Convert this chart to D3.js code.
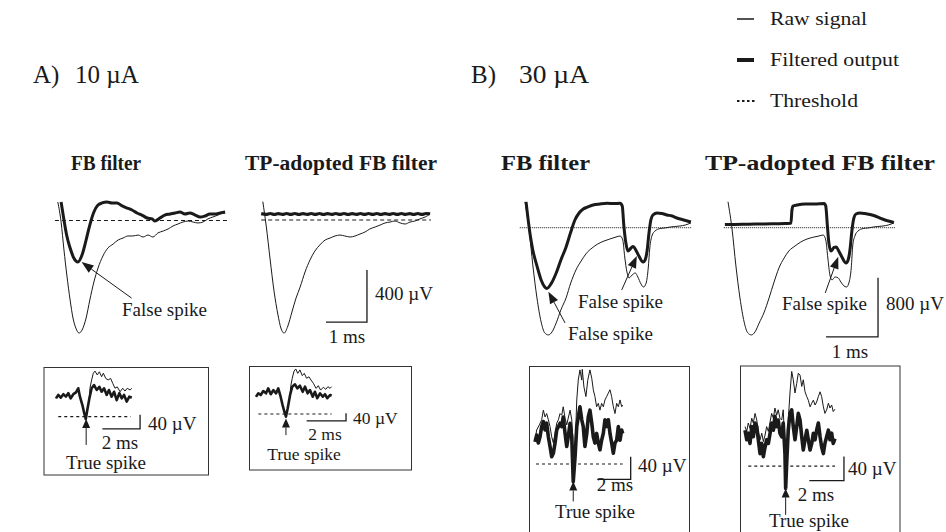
<!DOCTYPE html>
<html><head><meta charset="utf-8">
<script src="https://cdn.jsdelivr.net/npm/d3@7"></script>
<style>
body{margin:0;background:#fff}
svg{display:block}
text{font-family:"Liberation Serif","Times New Roman",serif;fill:#1a1a1a}
</style>
</head><body>
<svg id="c" width="946" height="532"></svg>
<script>
// ===== DATA (time in ms, voltage in µV) =====
// Panel A) 10 µA — FB filter
const rawA1 = [[0.02,92],[0.1,-62],[0.17,-277],[0.24,-470],[0.32,-662],[0.39,-800],[0.46,-878],[0.54,-916],[0.61,-893],[0.71,-800],[0.80,-662],[0.90,-523],[1.00,-416],[1.12,-323],[1.24,-262],[1.37,-231],[1.49,-200],[1.61,-185],[1.73,-169],[1.85,-169],[1.98,-162],[2.10,-177],[2.22,-162],[2.34,-177],[2.46,-146],[2.59,-131],[2.71,-115],[2.83,-92],[2.95,-77],[3.07,-62],[3.20,-54],[3.32,-62],[3.44,-69],[3.56,-62],[3.68,-38],[3.80,-23],[3.93,-8],[4.05,8],[4.10,8]];
const filtA1 = [[0.10,92],[0.17,-46],[0.24,-169],[0.32,-262],[0.41,-339],[0.51,-370],[0.61,-316],[0.71,-200],[0.80,-85],[0.90,15],[1.00,69],[1.10,85],[1.22,92],[1.34,85],[1.46,85],[1.59,62],[1.71,46],[1.83,31],[1.95,8],[2.07,-8],[2.20,-31],[2.32,-38],[2.39,-54],[2.51,-31],[2.63,-8],[2.76,0],[2.88,8],[3.00,15],[3.12,0],[3.24,8],[3.37,-8],[3.49,-23],[3.61,-15],[3.73,0],[3.85,0],[3.98,8],[4.10,15]];
const thrA1 = [[-0.05,-50],[4.15,-50]];
// Panel A) 10 µA — TP-adopted FB filter
const rawA2 = [[0.02,95],[0.1,-85],[0.2,-354],[0.29,-585],[0.39,-777],[0.46,-877],[0.54,-916],[0.63,-862],[0.73,-754],[0.83,-647],[0.93,-562],[1.05,-446],[1.17,-354],[1.29,-285],[1.41,-238],[1.54,-200],[1.66,-185],[1.78,-169],[1.90,-162],[2.02,-169],[2.15,-177],[2.27,-169],[2.39,-154],[2.51,-139],[2.63,-115],[2.76,-100],[2.88,-85],[3.00,-69],[3.12,-62],[3.24,-54],[3.37,-69],[3.49,-77],[3.61,-62],[3.73,-54],[3.85,-38],[3.98,-23],[4.10,0]];
const filtA2 = [[-0.02,3],[0.1,-3],[0.2,4],[0.3,-4],[0.4,3],[0.5,-3],[0.6,4],[0.7,-3],[0.8,4],[0.9,-4],[1.0,3],[1.1,-3],[1.2,4],[1.3,-3],[1.4,4],[1.5,-4],[1.6,3],[1.7,-3],[1.8,4],[1.9,-3],[2.0,4],[2.1,-4],[2.2,3],[2.3,-3],[2.4,4],[2.5,-3],[2.6,4],[2.7,-3],[2.8,4],[2.9,-4],[3.0,3],[3.1,-3],[3.2,4],[3.3,-3],[3.4,4],[3.5,-3],[3.6,3],[3.7,-4],[3.8,4],[3.9,-3],[4.0,4],[4.1,2]];
const thrA2 = [[-0.02,-46],[4.12,-46]];
const barA = [[1.56,-831],[2.56,-831],[2.56,-431]];

// Panel B) 30 µA — FB filter
const rawB1 = [[0,300],[0.08,-81],[0.15,-553],[0.23,-999],[0.31,-1323],[0.38,-1472],[0.45,-1499],[0.52,-1458],[0.60,-1337],[0.69,-1161],[0.79,-999],[0.88,-797],[0.98,-621],[1.08,-500],[1.17,-405],[1.29,-324],[1.40,-270],[1.52,-230],[1.63,-203],[1.75,-176],[1.83,-162],[1.88,-216],[1.92,-459],[1.96,-648],[2.00,-729],[2.06,-689],[2.12,-662],[2.17,-716],[2.23,-810],[2.28,-851],[2.33,-797],[2.37,-594],[2.40,-324],[2.44,-162],[2.50,-95],[2.60,-61],[2.69,-54],[2.79,-41],[2.88,-34],[2.98,-27],[3.08,-14],[3.19,14]];
const filtB1 = [[0.02,300],[0.10,-149],[0.15,-351],[0.23,-567],[0.31,-756],[0.38,-851],[0.42,-871],[0.50,-810],[0.60,-662],[0.69,-486],[0.79,-311],[0.88,-108],[0.96,54],[1.04,149],[1.12,203],[1.21,230],[1.31,257],[1.44,270],[1.58,279],[1.71,277],[1.83,279],[1.87,243],[1.90,-14],[1.94,-257],[1.98,-365],[2.04,-324],[2.08,-304],[2.13,-351],[2.19,-432],[2.27,-513],[2.31,-486],[2.35,-351],[2.38,-149],[2.42,54],[2.46,122],[2.54,149],[2.63,142],[2.73,122],[2.83,108],[2.92,81],[3.02,61],[3.12,41],[3.19,27]];
const thrB1 = [[-0.1,-50],[3.21,-50]];
// Panel B) 30 µA — TP-adopted FB filter
const rawB2 = [[0,300],[0.08,-81],[0.15,-553],[0.23,-999],[0.31,-1323],[0.38,-1472],[0.45,-1499],[0.52,-1458],[0.60,-1337],[0.69,-1202],[0.79,-999],[0.88,-797],[0.98,-594],[1.08,-459],[1.17,-365],[1.29,-297],[1.40,-243],[1.52,-203],[1.63,-180],[1.75,-162],[1.83,-149],[1.88,-216],[1.92,-459],[1.96,-689],[2.00,-756],[2.06,-716],[2.12,-729],[2.17,-783],[2.23,-837],[2.28,-851],[2.33,-783],[2.37,-594],[2.40,-284],[2.44,-162],[2.50,-95],[2.60,-61],[2.69,-54],[2.79,-41],[2.88,-34],[2.98,-27],[3.08,-14],[3.19,14]];
const filtB2 = [[-0.06,-7],[0.13,-7],[0.33,-4],[0.52,0],[0.71,0],[0.90,3],[1.10,7],[1.21,9],[1.23,189],[1.25,243],[1.33,257],[1.48,270],[1.67,270],[1.85,277],[1.88,243],[1.91,-14],[1.94,-257],[1.98,-365],[2.04,-317],[2.08,-311],[2.13,-365],[2.19,-446],[2.27,-527],[2.31,-486],[2.35,-324],[2.38,-108],[2.42,81],[2.46,135],[2.54,149],[2.63,142],[2.73,128],[2.83,108],[2.92,81],[3.02,54],[3.12,34],[3.19,20]];
const thrB2 = [[-0.08,-50],[3.21,-50]];
const barB = [[1.885,-1526],[2.885,-1526],[2.885,-726]];

// Insets (true spike)
const rawA1i = [[0,-4],[0.12,6],[0.25,-2],[0.39,8],[0.53,1],[0.65,11],[0.78,-4],[0.92,8],[1.06,13],[1.18,25],[1.27,1],[1.40,-23],[1.50,-47],[1.58,-63],[1.66,-37],[1.77,-4],[1.80,25],[1.89,49],[1.98,68],[2.07,74],[2.19,63],[2.30,72],[2.42,58],[2.51,68],[2.64,53],[2.77,49],[2.90,53],[3.01,39],[3.13,25],[3.25,29],[3.40,15],[3.54,25],[3.66,17],[3.78,25],[3.93,20],[4.02,25]];
const filtA1i = [[0,-4],[0.12,6],[0.25,-2],[0.39,8],[0.53,1],[0.65,11],[0.78,-4],[0.92,8],[1.06,13],[1.18,25],[1.27,1],[1.40,-23],[1.50,-47],[1.58,-63],[1.66,-37],[1.77,-4],[1.89,25],[2.02,34],[2.16,20],[2.30,29],[2.42,15],[2.55,25],[2.69,6],[2.81,20],[2.95,1],[3.08,15],[3.22,-9],[3.36,11],[3.49,-4],[3.61,6],[3.75,-13],[3.89,1],[4.02,-2]];
const thrA1i = [[0.12,-56],[3.96,-56]];
const barA1i = [[2.46,-91],[4.46,-91],[4.46,-51]];

const rawA2i = [[0,-18],[0.12,0],[0.24,-9],[0.37,12],[0.51,0],[0.62,26],[0.75,-5],[0.88,17],[1.02,0],[1.13,26],[1.25,-18],[1.35,-62],[1.44,-97],[1.52,-123],[1.61,-79],[1.73,-9],[1.76,35],[1.84,79],[1.93,117],[2.02,128],[2.12,105],[2.23,123],[2.35,93],[2.45,105],[2.57,79],[2.69,87],[2.79,70],[2.91,53],[3.05,26],[3.16,40],[3.28,17],[3.42,32],[3.54,21],[3.65,35],[3.76,26],[3.84,35]];
const filtA2i = [[0,-18],[0.12,0],[0.24,-9],[0.37,12],[0.51,0],[0.62,26],[0.75,-5],[0.88,17],[1.02,0],[1.13,26],[1.25,-18],[1.35,-62],[1.44,-97],[1.52,-123],[1.61,-79],[1.73,-9],[1.84,35],[1.98,47],[2.10,26],[2.23,40],[2.37,8],[2.49,35],[2.62,0],[2.74,17],[2.88,-18],[2.99,8],[3.11,-26],[3.25,0],[3.39,-18],[3.50,-5],[3.62,-26],[3.76,-9],[3.84,-13]];
const thrA2i = [[0.12,-109],[3.84,-109]];
const barA2i = [[2.57,-145],[4.57,-145],[4.57,-105]];

const rawB1i = [[0,-18],[0.10,0],[0.26,9],[0.40,18],[0.50,35],[0.60,23],[0.70,29],[0.80,18],[0.90,6],[1.00,-12],[1.10,-23],[1.20,-6],[1.30,12],[1.40,18],[1.50,29],[1.60,26],[1.69,41],[1.80,21],[1.90,9],[1.99,21],[2.10,35],[2.20,18],[2.26,-12],[2.29,-91],[2.40,-35],[2.50,53],[2.59,88],[2.69,106],[2.80,88],[2.83,107],[2.93,76],[3.05,59],[3.16,88],[3.29,106],[3.40,91],[3.49,71],[3.59,59],[3.69,41],[3.79,47],[3.89,35],[3.99,47],[4.09,41],[4.19,53],[4.29,59],[4.39,65],[4.49,71],[4.59,59],[4.69,41],[4.79,29],[4.89,47],[4.99,41],[5.09,53],[5.19,41],[5.25,44]];
const filtB1i = [[0,-21],[0.10,-9],[0.20,-23],[0.30,-12],[0.40,6],[0.50,15],[0.60,0],[0.70,12],[0.80,-12],[0.90,-29],[1.00,-47],[1.10,-41],[1.20,-23],[1.30,0],[1.40,6],[1.50,12],[1.60,6],[1.69,23],[1.80,-6],[1.90,-29],[1.99,-12],[2.10,12],[2.20,-12],[2.29,-91],[2.40,-47],[2.50,6],[2.59,23],[2.69,41],[2.80,18],[2.89,6],[2.99,-29],[3.10,-6],[3.19,23],[3.29,35],[3.40,12],[3.49,-12],[3.59,-23],[3.69,-6],[3.79,-23],[3.89,-35],[3.99,-18],[4.09,-6],[4.19,18],[4.29,6],[4.39,18],[4.49,-6],[4.59,-23],[4.69,-41],[4.79,-23],[4.89,-18],[4.99,6],[5.09,-18],[5.19,0],[5.25,-6]];
const thrB1i = [[0.06,-60],[5.25,-60]];
const barB1i = [[3.73,-87],[5.73,-87],[5.73,-47]];

const rawB2i = [[0,9],[0.10,1],[0.19,15],[0.29,6],[0.39,23],[0.48,15],[0.58,31],[0.68,20],[0.77,1],[0.87,-13],[0.97,-2],[1.06,-16],[1.16,-5],[1.25,9],[1.35,1],[1.45,17],[1.54,31],[1.64,23],[1.73,40],[1.83,28],[1.92,37],[2.02,23],[2.12,20],[2.21,37],[2.31,-25],[2.35,-94],[2.41,-47],[2.50,20],[2.60,65],[2.70,101],[2.79,87],[2.89,65],[2.99,81],[3.08,98],[3.18,95],[3.28,76],[3.37,87],[3.47,67],[3.57,59],[3.66,53],[3.76,42],[3.86,48],[3.95,53],[4.05,45],[4.14,50],[4.24,59],[4.34,67],[4.43,59],[4.53,42],[4.62,31],[4.72,37],[4.82,48],[4.91,40],[5.01,45],[5.10,34],[5.20,38]];
const filtB2i = [[0,3],[0.10,-13],[0.19,-2],[0.29,-19],[0.39,9],[0.48,-8],[0.58,15],[0.68,9],[0.77,-13],[0.87,-36],[0.97,-19],[1.06,-41],[1.16,-25],[1.25,-13],[1.35,-19],[1.45,-2],[1.54,15],[1.64,3],[1.73,26],[1.83,9],[1.92,20],[2.02,-2],[2.12,-8],[2.21,15],[2.31,-36],[2.35,-94],[2.41,-52],[2.50,3],[2.60,31],[2.70,37],[2.79,9],[2.89,-13],[2.99,9],[3.08,31],[3.18,20],[3.28,-8],[3.37,-30],[3.47,-13],[3.57,3],[3.66,-13],[3.76,-30],[3.86,-19],[3.95,-2],[4.05,-13],[4.14,3],[4.24,15],[4.34,-8],[4.43,-25],[4.53,-36],[4.62,-19],[4.72,-8],[4.82,3],[4.91,-13],[5.01,-2],[5.10,-19],[5.20,-11]];
const thrB2i = [[0.19,-57],[5.20,-57]];
const barB2i = [[3.72,-81],[5.72,-81],[5.72,-41]];

// Labels
const legendLabels = ["Raw signal","Filtered output","Threshold"];
const groupLabels = ["A)","10 \u00b5A","B)","30 \u00b5A"];
const filterTitles = ["FB filter","TP-adopted FB filter"];

// ===== DRAWING =====
const svg = d3.select("#c");
const ink = "#1a1a1a";

function mkScales(p){
  const x = d3.scaleLinear().domain([0,1]).range([p.x0, p.x0 + p.kx]);
  const y = d3.scaleLinear().domain([0,100]).range([p.y0, p.y0 - 100*p.ky]);
  return {x, y};
}
function arrow(g, x1, y1, x2, y2, L, W){
  const dx = x2-x1, dy = y2-y1, len = Math.hypot(dx,dy);
  const ux = dx/len, uy = dy/len;
  const bx = x2 - ux*L, by = y2 - uy*L;
  g.append("line").attr("x1",x1).attr("y1",y1).attr("x2",bx).attr("y2",by)
    .attr("stroke",ink).attr("stroke-width",1);
  g.append("path").attr("d",`M${x2},${y2}L${bx - uy*W/2},${by + ux*W/2}L${bx + uy*W/2},${by - ux*W/2}Z`)
    .attr("fill",ink);
}
function text(g, x, y, s, size, anchor, weight, len){
  const t = g.append("text").attr("x",x).attr("y",y).attr("font-size",size)
    .attr("text-anchor",anchor||"start").attr("font-weight",weight||"normal").text(s);
  if (len) t.attr("textLength",len).attr("lengthAdjust","spacingAndGlyphs");
  return t;
}

const panels = [
  {x0:57, y0:214, kx:41, ky:0.13, raw:rawA1, filt:filtA1, thr:thrA1, dash:"4,3", fw:3, curve:d3.curveMonotoneX},
  {x0:262, y0:214, kx:41, ky:0.13, raw:rawA2, filt:filtA2, thr:thrA2, dash:"4,3", fw:3.2, curve:d3.curveMonotoneX, bar:barA},
  {x0:525, y0:224, kx:52, ky:0.074, raw:rawB1, filt:filtB1, thr:thrB1, dash:"1,1", thrCol:"#444", fw:3, curve:d3.curveMonotoneX},
  {x0:728, y0:224, kx:52, ky:0.074, raw:rawB2, filt:filtB2, thr:thrB2, dash:"1,1", thrCol:"#444", fw:3, curve:d3.curveMonotoneX, bar:barB},
  {x0:56, y0:397, kx:18.85, ky:0.35, raw:rawA1i, filt:filtA1i, thr:thrA1i, dash:"3,3", fw:2.6, curve:d3.curveLinear, bar:barA1i},
  {x0:256, y0:393.3, kx:19.7, ky:0.19, raw:rawA2i, filt:filtA2i, thr:thrA2i, dash:"3,3", fw:2.6, curve:d3.curveLinear, bar:barA2i},
  {x0:535, y0:430, kx:16.7, ky:0.567, raw:rawB1i, filt:filtB1i, thr:thrB1i, dash:"3,3", fw:3.6, curve:d3.curveLinear, bar:barB1i},
  {x0:745, y0:432, kx:17.3, ky:0.6, raw:rawB2i, filt:filtB2i, thr:thrB2i, dash:"3,3", fw:3.6, curve:d3.curveLinear, bar:barB2i}
];
panels.forEach(p => { p.s = mkScales(p); });

// inset frames
const frames = [[44,367.5,208.5,475],[249.5,366.5,411.5,470],[529.5,366.5,689.5,545],[740.5,366,900,545]];
frames.forEach(f => svg.append("rect").attr("x",f[0]).attr("y",f[1]).attr("width",f[2]-f[0]).attr("height",f[3]-f[1])
  .attr("fill","none").attr("stroke","#333").attr("stroke-width",1));

panels.forEach(p => {
  const g = svg.append("g");
  const line = d3.line().x(d=>p.s.x(d[0])).y(d=>p.s.y(d[1])).curve(p.curve);
  const lin = d3.line().x(d=>p.s.x(d[0])).y(d=>p.s.y(d[1]));
  g.append("path").attr("d",lin(p.thr)).attr("fill","none").attr("stroke",p.thrCol||ink)
    .attr("stroke-width",1.2).attr("stroke-dasharray",p.dash);
  g.append("path").attr("d",line(p.raw)).attr("fill","none").attr("stroke",ink).attr("stroke-width",1);
  g.append("path").attr("d",line(p.filt)).attr("fill","none").attr("stroke",ink)
    .attr("stroke-width",p.fw).attr("stroke-linejoin","round");
  if (p.bar) g.append("path").attr("d",lin(p.bar)).attr("fill","none").attr("stroke",ink).attr("stroke-width",1.3);
});

// scale-bar labels
const fs = 19, fi = 19, fa2 = 17.5;
text(svg,375,300,"400 \u00b5V",fs);
text(svg,347,343,"1 ms",fs,"middle");
text(svg,886,310,"800 \u00b5V",fs);
text(svg,850,358,"1 ms",fs,"middle");
text(svg,148,430,"40 \u00b5V",fi);
text(svg,120,449,"2 ms",fi,"middle");
text(svg,353,424,"40 \u00b5V",fa2);
text(svg,325,440,"2 ms",fa2,"middle");
text(svg,638,472,"40 \u00b5V",fi);
text(svg,615,491,"2 ms",fi,"middle");
text(svg,848,475,"40 \u00b5V",fi);
text(svg,816,501,"2 ms",fi,"middle");

// "False spike" annotations
const pA1 = panels[0].s, pB1 = panels[2].s, pB2 = panels[3].s;
arrow(svg, pA1.x(1.82), pA1.y(-647), pA1.x(0.60), pA1.y(-370), 12, 9);
text(svg,122,316,"False spike",fs);
arrow(svg, pB1.x(1.86), pB1.y(-891), pB1.x(2.15), pB1.y(-432), 12, 9);
text(svg,578,308,"False spike",fs);
arrow(svg, pB1.x(0.77), pB1.y(-1337), pB1.x(0.45), pB1.y(-914), 12, 9);
text(svg,568,340,"False spike",fs);
arrow(svg, pB2.x(1.87), pB2.y(-932), pB2.x(2.12), pB2.y(-441), 12, 9);
text(svg,782,310,"False spike",fs);

// "True spike" annotations
const ia = [[panels[4],1.6,-63,-137,106,469,fi],[panels[5],1.52,-132,-220,304,460,fa2],[panels[6],2.29,-91,-126,595,518,fi],[panels[7],2.35,-94,-138,809,527,fi]];
ia.forEach(a => {
  const s = a[0].s;
  arrow(svg, s.x(a[1]), s.y(a[3]), s.x(a[1]), s.y(a[2]), 9, 8);
  text(svg,a[4],a[5],"True spike",a[6],"middle");
});

// group labels
text(svg,33,83,groupLabels[0],25);
text(svg,75,83,groupLabels[1],25);
text(svg,471,83,groupLabels[2],25);
text(svg,519,83,groupLabels[3],25,"start","normal",70);

// filter titles
text(svg,106,170,filterTitles[0],20,"middle","bold",70);
text(svg,341,170,filterTitles[1],20,"middle","bold",192);
text(svg,545.5,170,filterTitles[0],20,"middle","bold",89);
text(svg,820,170,filterTitles[1],20,"middle","bold",230);

// legend
const lg = svg.append("g");
lg.append("line").attr("x1",737).attr("x2",754).attr("y1",19).attr("y2",19).attr("stroke",ink).attr("stroke-width",1.5);
lg.append("line").attr("x1",737).attr("x2",754).attr("y1",60).attr("y2",60).attr("stroke",ink).attr("stroke-width",4);
lg.append("line").attr("x1",737).attr("x2",756).attr("y1",101).attr("y2",101).attr("stroke",ink).attr("stroke-width",2).attr("stroke-dasharray","2.5,2.5");
const legW = [97,129,88];
legendLabels.forEach((l,i) => text(lg,770,25+i*41,l,19,"start","normal",legW[i]));
</script>
</body></html>
